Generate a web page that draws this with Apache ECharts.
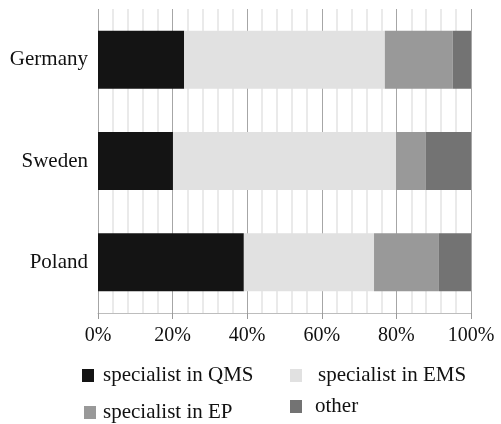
<!DOCTYPE html>
<html><head><meta charset="utf-8">
<script src="https://cdn.jsdelivr.net/npm/echarts@6/dist/echarts.min.js"></script>
<style>html,body{margin:0;padding:0;background:#fff}#c{width:501px;height:424px}</style>
</head><body><div id="c"></div>
<script>
const countries = ['Germany', 'Sweden', 'Poland'];
const seriesNames = ['specialist in QMS', 'specialist in EMS', 'specialist in EP', 'other'];
const qms = [23.1, 20.1, 39.1];
const ems = [53.8, 59.8, 34.9];
const ep = [18.2, 8.0, 17.4];
const other = [4.9, 12.1, 8.6];
const colors = ['#141414', '#e1e1e1', '#999999', '#737373'];
const values = [qms, ems, ep, other];

const font = 'Liberation Serif, Times New Roman, serif';
const chart = echarts.init(document.getElementById('c'), null, {renderer: 'canvas'});
const legendPos = [
  {left: 82, top: 365, pad: 4},
  {left: 290, top: 365, pad: 11},
  {left: 84, top: 402, pad: 2},
  {left: 290, top: 396, pad: 8}
];
chart.setOption({
  animation: false,
  backgroundColor: '#fff',
  grid: {left: 98, right: 30, top: 9, bottom: 111},
  xAxis: {
    type: 'value', min: 0, max: 100, interval: 20,
    axisLine: {show: true, lineStyle: {color: '#bdbdbd', width: 1}},
    axisTick: {show: true, length: 6, lineStyle: {color: '#9a9a9a'}},
    axisLabel: {formatter: '{value}%', color: '#111', fontFamily: font, fontSize: 20, margin: 13},
    splitLine: {show: true, lineStyle: {color: '#a6a6a6', width: 1}},
    minorTick: {show: false, splitNumber: 5},
    minorSplitLine: {show: true, lineStyle: {color: '#e4e4e4', width: 1.5}}
  },
  yAxis: {
    type: 'category', data: countries, inverse: true,
    axisLine: {show: false}, axisTick: {show: false},
    axisLabel: {color: '#111', fontFamily: font, fontSize: 21, margin: 10}
  },
  legend: seriesNames.map((n, i) => ({
    data: [n], left: legendPos[i].left, top: legendPos[i].top,
    itemWidth: 12, itemHeight: 13, icon: 'rect', padding: 0,
    textStyle: {color: '#111', fontFamily: font, fontSize: 21, padding: [0, 0, 0, legendPos[i].pad]},
    selectedMode: false
  })),
  series: seriesNames.map((n, i) => ({
    name: n, type: 'bar', stack: 'total', barWidth: 58,
    data: values[i], itemStyle: {color: colors[i]}
  }))
});
</script></body></html>
